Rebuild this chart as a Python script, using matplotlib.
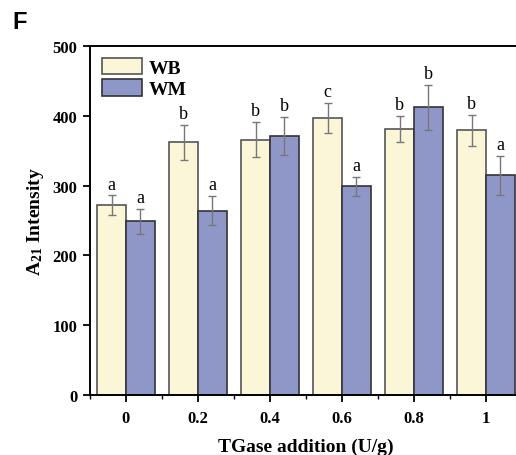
import matplotlib
matplotlib.use("Agg")
import matplotlib.pyplot as plt
import numpy as np

categories = ["0", "0.2", "0.4", "0.6", "0.8", "1"]
x_vals = [0.0, 0.2, 0.4, 0.6, 0.8, 1.0]
wb_vals = [272, 362, 366, 397, 381, 379]
wb_err = [14, 25, 25, 21, 19, 22]
wm_vals = [249, 264, 371, 299, 412, 315]
wm_err = [18, 21, 27, 14, 32, 28]
wb_letters = ["a", "b", "b", "c", "b", "b"]
wm_letters = ["a", "a", "b", "a", "b", "a"]
yticks = [0, 100, 200, 300, 400, 500]

plt.rcParams['font.family'] = ['Liberation Serif', 'DejaVu Serif']
plt.rcParams['mathtext.fontset'] = 'custom'
plt.rcParams['mathtext.rm'] = 'Liberation Serif'
plt.rcParams['mathtext.bf'] = 'Liberation Serif:bold'

fig = plt.figure(figsize=(5.16, 4.56), dpi=100)
ax = fig.add_axes([90/516, 60/456, 432/516, 349/456])

w = 0.08
x = np.array(x_vals)
wb_col = '#FBF6D7'
wm_col = '#8F97C9'
ekw = dict(ecolor='#777777', elinewidth=1.0, capsize=3, capthick=1.0)
b1 = ax.bar(x - w/2, wb_vals, width=w, color=wb_col, edgecolor='#555555', linewidth=1.2,
            yerr=wb_err, error_kw=ekw, label='WB', zorder=2)
b2 = ax.bar(x + w/2, wm_vals, width=w, color=wm_col, edgecolor='#333333', linewidth=1.2,
            yerr=wm_err, error_kw=ekw, label='WM', zorder=2)

for xi, v, e, t in zip(x - w/2, wb_vals, wb_err, wb_letters):
    ax.annotate(t, (xi, v + e), xytext=(0, 2), textcoords='offset points',
                ha='center', va='bottom', fontsize=13)
for xi, v, e, t in zip(x + w/2, wm_vals, wm_err, wm_letters):
    ax.annotate(t, (xi, v + e), xytext=(0, 2), textcoords='offset points',
                ha='center', va='bottom', fontsize=13)

ax.set_xlim(-0.1, 1.1)
ax.set_ylim(0, 500)
ax.set_xticks(x_vals)
ax.set_xticklabels(categories, fontsize=12, fontweight='bold')
ax.set_xticks(np.arange(-0.1, 1.11, 0.2), minor=True)
ax.set_yticks(yticks)
ax.set_yticklabels([str(v) for v in yticks], fontsize=12, fontweight='bold')
ax.tick_params(axis='both', which='major', direction='out', length=5, width=1.3)
ax.tick_params(axis='x', which='major', pad=6)
ax.tick_params(axis='y', which='major', pad=4)
ax.tick_params(axis='x', which='minor', direction='out', length=3, width=1.0)
for s in ax.spines.values():
    s.set_linewidth(1.4)

ax.set_xlabel('TGase addition (U/g)', fontsize=14, fontweight='bold', labelpad=8)
ax.set_ylabel(r'$\mathbf{A_{21}}$ Intensity', fontsize=14, fontweight='bold', labelpad=5)

leg = ax.legend(loc='upper left', frameon=False, prop={'weight': 'bold', 'size': 14},
                handlelength=2.05, handleheight=0.95, labelspacing=0.12,
                handletextpad=0.35, borderaxespad=0.5, borderpad=0.1)

fig.text(12/516, 1 - 29/456, 'F', fontsize=17, fontweight='bold', family='Liberation Sans')

fig.savefig('out.png', dpi=100)
